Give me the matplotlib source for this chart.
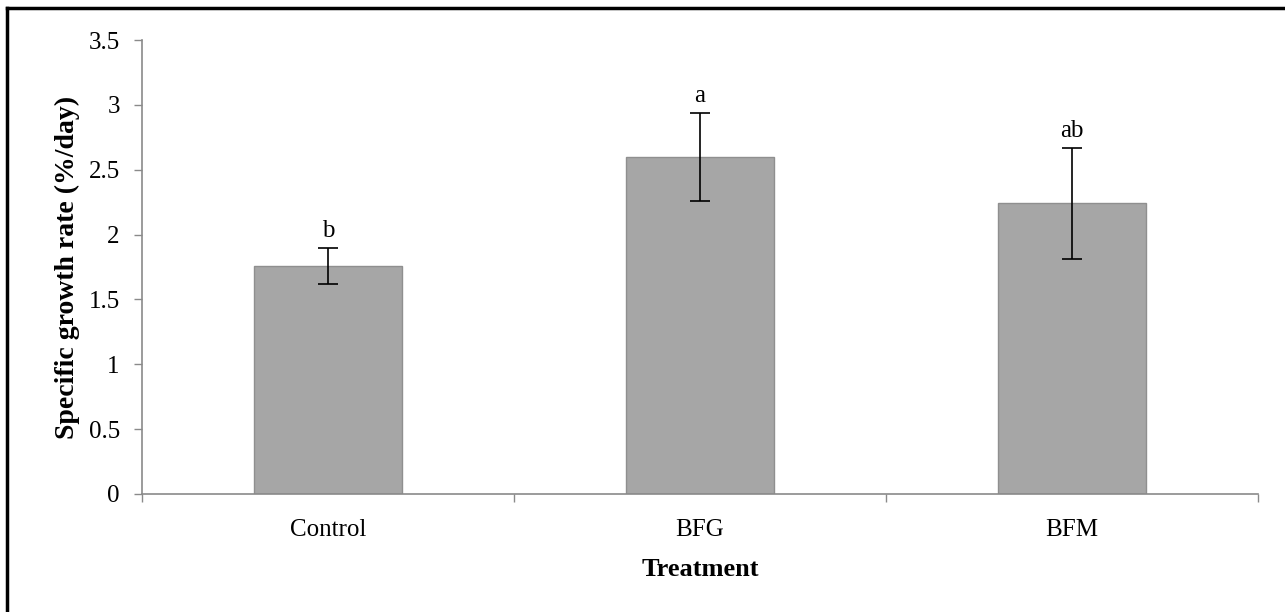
import matplotlib.pyplot as plt
from matplotlib.lines import Line2D

treatments = ["Control", "BFG", "BFM"]
growth = [1.76, 2.60, 2.24]
se = [0.14, 0.34, 0.43]
letters = ["b", "a", "ab"]

plt.rcParams['font.family'] = ['Liberation Serif', 'DejaVu Serif']

fig = plt.figure(figsize=(12.85, 6.12), dpi=100)
ax = fig.add_axes([142 / 1285, 1 - 494 / 612, (1258 - 142) / 1285, (494 - 40) / 612])

x = range(len(treatments))
ax.bar(x, growth, width=0.40, color="#a6a6a6", edgecolor="#8f8f8f", linewidth=1.0, zorder=2)
ax.errorbar(x, growth, yerr=se, fmt="none", ecolor="black", elinewidth=1.2,
            capsize=7, capthick=1.2, zorder=3)

for i, (g, e, l) in enumerate(zip(growth, se, letters)):
    ax.annotate(l, (i, g + e), xytext=(0, 4), textcoords="offset points",
                ha="center", va="bottom", fontsize=18)

ax.set_xlim(-0.5, 2.5)
ax.set_ylim(0, 3.5)
ax.set_yticks([0, 0.5, 1, 1.5, 2, 2.5, 3, 3.5])
ax.set_yticklabels(["0", "0.5", "1", "1.5", "2", "2.5", "3", "3.5"])
ax.set_xticks(list(x))
ax.set_xticklabels(treatments)
ax.set_xticks([-0.5, 0.5, 1.5, 2.5], minor=True)

ax.tick_params(axis="y", direction="out", length=6, width=1, color="#8a8a8a",
               labelsize=18, pad=10)
ax.tick_params(axis="x", which="major", length=0, labelsize=18, pad=18)
ax.tick_params(axis="x", which="minor", direction="out", length=6, width=1, color="#8a8a8a")

for s in ["top", "right"]:
    ax.spines[s].set_visible(False)
for s in ["left", "bottom"]:
    ax.spines[s].set_color("#8a8a8a")
    ax.spines[s].set_linewidth(1.2)

ax.set_ylabel("Specific growth rate (%/day)", fontsize=20, fontweight="bold", labelpad=6)
ax.set_xlabel("Treatment", fontsize=19, fontweight="bold", labelpad=12)

# open frame round the figure: only the top and left edges are visible
fig.add_artist(Line2D([7 / 1285, 7 / 1285], [0, 1 - 8 / 612], color="black", lw=2.5,
                      transform=fig.transFigure))
fig.add_artist(Line2D([7 / 1285, 1], [1 - 8 / 612, 1 - 8 / 612], color="black", lw=2.5,
                      transform=fig.transFigure))

fig.savefig("out.png", dpi=100)
